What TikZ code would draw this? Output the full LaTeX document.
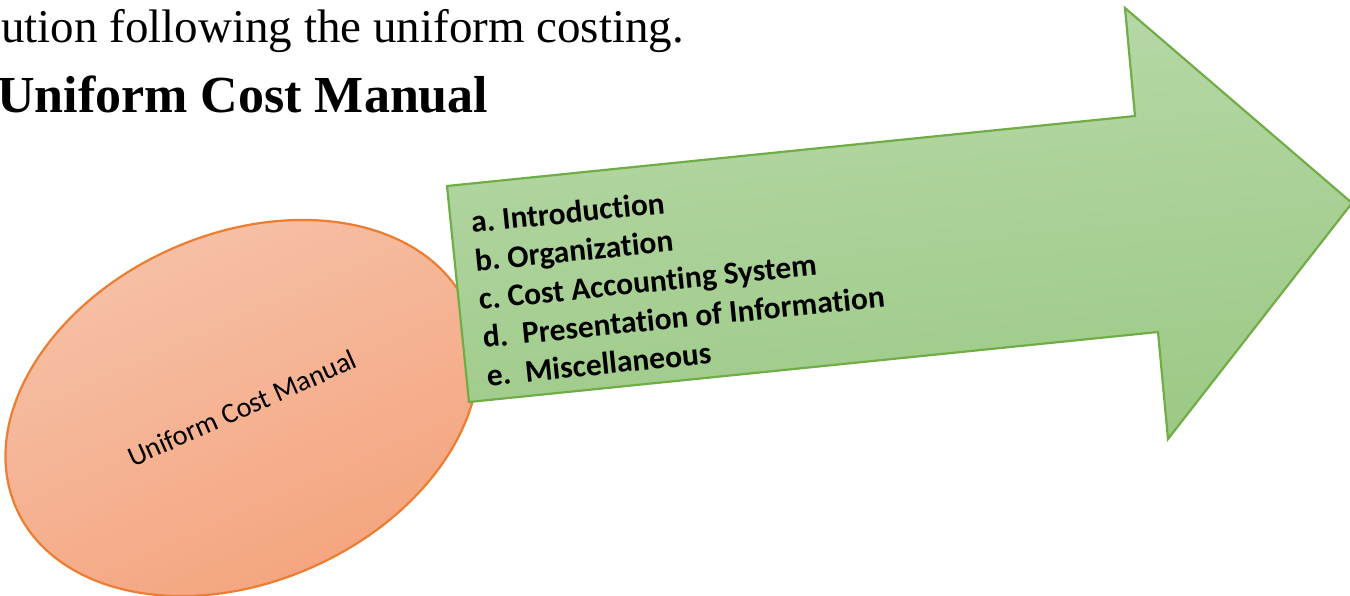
\documentclass[tikz,border=0pt]{standalone}
\usepackage{fontspec}
\setmainfont{Liberation Serif}
\newfontfamily\calibri[RawFeature={-liga;-clig;-calt;-dlig}]{Carlito}
\usetikzlibrary{shapes.geometric}
\frenchspacing

\definecolor{ucmTop}{HTML}{F6C3AA}
\definecolor{ucmBottom}{HTML}{F4A27B}
\definecolor{ucmEdge}{HTML}{ED7D31}
\definecolor{arrowTop}{HTML}{B8D9AA}
\definecolor{arrowBottom}{HTML}{9CC985}
\definecolor{arrowEdge}{HTML}{70AD47}

\begin{document}
\begin{tikzpicture}[x=1pt,y=1pt,
  headline/.style={anchor=base west, inner sep=0pt},
  ovalbox/.style={ellipse, draw=ucmEdge, line width=2.2pt,
    top color=ucmTop, bottom color=ucmBottom, shading angle=24, inner sep=0pt},
  bigarrow/.style={draw=arrowEdge, line width=2.2pt,
    top color=arrowTop, bottom color=arrowBottom, shading angle=6},
  itemlist/.style={anchor=base west, inner sep=0pt,
    font=\calibri\bfseries\fontsize{31.5}{38.5}\selectfont}]
\useasboundingbox (0,0) rectangle (1350,-595);

% text lines above the diagram
\node[headline, font=\fontsize{47}{56}\selectfont] (intro) at (1,-42.7)
  {ution following the uniform costing.};
\node[headline, font=\bfseries\fontsize{52}{62}\selectfont] (heading) at (-3,-112.7)
  {Uniform Cost Manual};

% the oval
\node[ovalbox, rotate=24, minimum width=494pt, minimum height=348pt,
  font=\calibri\fontsize{28.5}{34}\selectfont] (ucm) at (242,-408)
  {Uniform Cost Manual};

% the block arrow
\coordinate (shaftTL) at (447,-186);
\coordinate (shaftTR) at (1135,-116);
\coordinate (headT)   at (1125,-8);
\coordinate (tip)     at (1352,-203);
\coordinate (headB)   at (1168,-439);
\coordinate (shaftBR) at (1158,-332);
\coordinate (shaftBL) at (469,-402);
\draw[bigarrow] (shaftTL) -- (shaftTR) -- (headT) -- (tip) -- (headB)
  -- (shaftBR) -- (shaftBL) -- cycle;

% contents of the manual
\node[itemlist, rotate=5.8] (items) at (472,-233)
  {\begin{tabular}[t]{@{}l@{}}
   a. Introduction\\
   b. Organization\\
   c. Cost Accounting System\\
   d.~ Presentation of Information\\
   e.~ Miscellaneous
   \end{tabular}};
\end{tikzpicture}
\end{document}
